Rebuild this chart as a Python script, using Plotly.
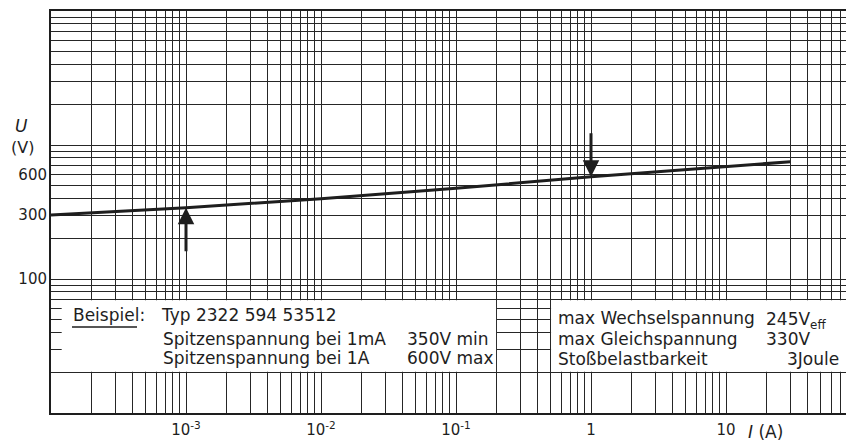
import plotly.graph_objects as go
import math

# ---- data ----
current_A = [1e-4, 1e-3, 1e-2, 1e-1, 1, 10, 30]
voltage_V = [300, 340, 397, 475, 580, 692, 750]

x_tick_vals = [1e-3, 1e-2, 1e-1, 1, 10]
x_tick_text = ["10<sup>-3</sup>", "10<sup>-2</sup>", "10<sup>-1</sup>", "1", "10"]
y_tick_vals = [100, 300, 600]
y_tick_text = ["100", "300", "600"]

# marker arrows (current, voltage) pointing at the curve
arrow_down = (1, 580)      # 1 A
arrow_up = (1e-3, 340)     # 1 mA

INK = "#1e1e1e"
GRID = "#262626"
FONT = "DejaVu Sans"

# ---- figure geometry (page has an 8px body margin) ----
OFF = 8
W, H = 854 - OFF, 443 - OFF
L, R, T, B = 51 - OFF, 0, 11 - OFF, 30
PW, PH = W - L - R, H - T - B

lg = math.log10
x_range = [-4, -4 + PW / 135.0]
y_range = [1, 4]


def px(x):
    """image pixel x -> paper"""
    return (x - OFF - L) / PW


def py(y):
    """image pixel y -> paper"""
    return (H + OFF - B - y) / PH


def dx(v):
    """data value on the log x axis -> paper"""
    return (lg(v) - x_range[0]) / (x_range[1] - x_range[0])


def dy(v):
    return (lg(v) - y_range[0]) / (y_range[1] - y_range[0])


def log_grid(d0, d1, top=None):
    vals = []
    for d in range(d0, d1 + 1):
        for k in range(1, 10):
            vals.append(k * 10 ** d)
    if top is not None:
        vals.append(top)
    return vals


def make_ticks(grid, lab_vals, lab_text):
    text = []
    for v in grid:
        t = ""
        for lv, lt in zip(lab_vals, lab_text):
            if abs(lg(v) - lg(lv)) < 1e-9:
                t = lt
        text.append(t)
    return text


xgrid = log_grid(-4, 1, 100)
ygrid = log_grid(1, 3, 10000)

fig = go.Figure()
fig.add_trace(go.Scatter(x=current_A, y=voltage_V, mode="lines",
                         line=dict(color=INK, width=3), hoverinfo="skip",
                         showlegend=False))

fig.update_xaxes(type="log", range=x_range, tickvals=xgrid,
                 ticktext=make_ticks(xgrid, x_tick_vals, x_tick_text),
                 showgrid=True, gridcolor=GRID, gridwidth=1.4, ticks="",
                 showline=True, linecolor=INK, linewidth=2, mirror=True,
                 zeroline=False, ticklabelstandoff=2,
                 tickfont=dict(family=FONT, size=15, color=INK))
fig.update_yaxes(type="log", range=y_range, tickvals=ygrid,
                 ticktext=make_ticks(ygrid, y_tick_vals, y_tick_text),
                 showgrid=True, gridcolor=GRID, gridwidth=1.4, ticks="",
                 showline=True, linecolor=INK, linewidth=2, mirror=False,
                 zeroline=False, ticklabelstandoff=-1,
                 tickfont=dict(family=FONT, size=15, color=INK))

# white text boxes covering the grid
shapes = [
    dict(type="rect", xref="paper", yref="paper", x0=dx(1.2e-4), x1=dx(0.198),
         y0=dy(20.3), y1=dy(69.3), fillcolor="white", line=dict(width=0),
         layer="above"),
    dict(type="rect", xref="paper", yref="paper", x0=dx(0.506), x1=dx(79),
         y0=dy(20.3), y1=dy(69.3), fillcolor="white", line=dict(width=0),
         layer="above"),
    dict(type="line", xref="paper", yref="paper", x0=px(72), x1=px(137),
         y0=py(327), y1=py(327), line=dict(color=INK, width=1.5),
         layer="above"),
]

ann = []


def txt(x, y, s, anchor="left", size=17):
    ann.append(dict(xref="paper", yref="paper", x=px(x), y=py(y), text=s,
                    showarrow=False, xanchor=anchor, yanchor="middle",
                    font=dict(family=FONT, size=size, color=INK)))


txt(71, 315, "Beispiel:")
txt(159, 315, "Typ 2322 594 53512")
txt(161, 339, "Spitzenspannung bei 1mA")
txt(405, 339, "350V min")
txt(161, 358, "Spitzenspannung bei 1A")
txt(405, 358, "600V max")
txt(556, 318, "max Wechselspannung")
txt(764, 320, "245V<sub>eff</sub>")
txt(556, 339, "max Gleichspannung")
txt(764, 339, "330V")
txt(556, 359, "Stoßbelastbarkeit")
txt(841, 359, "3Joule", anchor="right")

# axis titles
txt(21, 126, "<i>U</i>", anchor="center", size=17)
txt(22, 148, "(V)", anchor="center", size=16)
txt(746, 432, "<i>I</i> (A)", anchor="left", size=17)

# arrows
for (xa, ya), ay in ((arrow_down, -45), (arrow_up, 45)):
    ann.append(dict(x=lg(xa), y=lg(ya), xref="x", yref="y", text="",
                    showarrow=True, ax=0, ay=ay, arrowhead=2, arrowsize=1.1,
                    arrowwidth=3, arrowcolor=INK, standoff=0))

fig.update_layout(width=W, height=H, margin=dict(l=L, r=R, t=T, b=B),
                  paper_bgcolor="white", plot_bgcolor="white",
                  shapes=shapes, annotations=ann, showlegend=False)

fig.write_html("out.html")
